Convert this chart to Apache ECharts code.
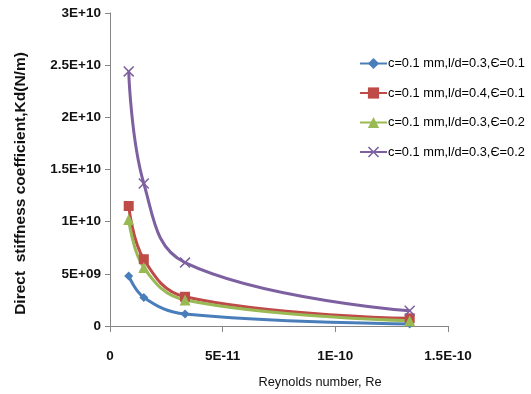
<!DOCTYPE html>
<html><head><meta charset="utf-8">
<script src="https://cdn.jsdelivr.net/npm/echarts@6/dist/echarts.min.js"></script>
<style>html,body{margin:0;padding:0;background:#fff}#c{width:531px;height:394px}</style>
</head><body><div id="c"></div>
<script>
const reynolds = [8.3e-12, 1.5e-11, 3.33e-11, 1.33e-10];
const seriesNames = ['c=0.1 mm,l/d=0.3,Є=0.1','c=0.1 mm,l/d=0.4,Є=0.1','c=0.1 mm,l/d=0.3,Є=0.2','c=0.1 mm,l/d=0.3,Є=0.2'];
const kdBlue = [4.8e9, 2.74e9, 1.15e9, 2.0e8];
const kdRed = [1.15e10, 6.4e9, 2.8e9, 7.4e8];
const kdGreen = [1.02e10, 5.6e9, 2.5e9, 5.0e8];
const kdPurple = [2.44e10, 1.366e10, 6.08e9, 1.46e9];
const yTickLabels = ['0','5E+09','1E+10','1.5E+10','2E+10','2.5E+10','3E+10'];
const xTickLabels = ['0','5E-11','1E-10','1.5E-10'];

const colors = ['#4a7ebb','#be4b48','#98b954','#7d60a0'];
const symbols = ['diamond','rect','triangle','path://M0,1L1,0L5,4L9,0L10,1L6,5L10,9L9,10L5,6L1,10L0,9L4,5Z'];
const sizes = [9,10,11,11];
const allData = [kdBlue, kdRed, kdGreen, kdPurple];
const ids = allData.map((d,i)=>'s'+i);

const chart = echarts.init(document.getElementById('c'));
const font = 'Liberation Sans';
chart.setOption({
  animation:false,
  textStyle:{fontFamily:font},
  grid:{left:110,right:83,top:13,bottom:67},
  legend:{
    orient:'vertical', left:354, top:52, itemGap:16.5, itemWidth:27, itemHeight:14,
    textStyle:{fontSize:12.8,color:'#000',fontFamily:font,padding:[0,0,0,-4]},
    data:ids,
    formatter:n=>seriesNames[ids.indexOf(n)]
  },
  xAxis:{
    type:'value', min:0, max:1.5e-10, interval:5e-11,
    name:'Reynolds number, Re', nameLocation:'middle', nameGap:50,
    nameTextStyle:{fontSize:12.8,color:'#111',fontFamily:font,padding:[0,0,0,82]},
    axisLine:{lineStyle:{color:'#868686',width:1}},
    axisTick:{show:true,length:6,lineStyle:{color:'#868686'}},
    axisLabel:{margin:23,fontSize:13.5,fontWeight:'bold',color:'#111',
      formatter:v=>xTickLabels[Math.round(v/5e-11)]},
    splitLine:{show:false}
  },
  yAxis:{
    type:'value', min:0, max:3e10, interval:5e9,
    name:'Direct  stiffness coefficient,Kd(N/m)', nameLocation:'middle', nameGap:81, nameRotate:90,
    nameTextStyle:{fontSize:15.5,fontWeight:'bold',color:'#111',fontFamily:font,padding:[0,28,0,0]},
    axisLine:{show:true,lineStyle:{color:'#868686',width:1}},
    axisTick:{show:true,length:5,lineStyle:{color:'#868686'}},
    axisLabel:{margin:9,fontSize:13.5,fontWeight:'bold',color:'#111',
      formatter:v=>yTickLabels[Math.round(v/5e9)]},
    splitLine:{show:false}
  },
  series:allData.map((d,i)=>({
    name:ids[i], type:'line', smooth:0.4,
    data:d.map((v,j)=>[reynolds[j],v]),
    symbol:symbols[i], symbolSize:sizes[i],
    lineStyle:{color:colors[i],width:3},
    itemStyle:{color:colors[i]},
    z: i===3?5:2
  }))
});
</script></body></html>
